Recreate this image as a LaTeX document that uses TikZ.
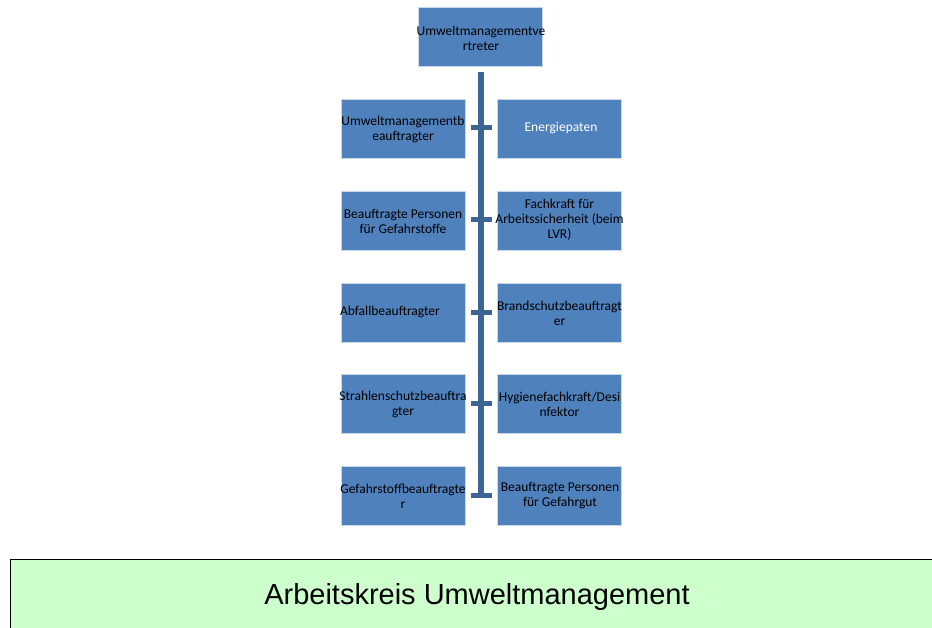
\documentclass[tikz,border=0pt]{standalone}
\usepackage{fontspec}
\setmainfont{Carlito}
\newfontfamily\arialfont{Liberation Sans}
\definecolor{boxblue}{HTML}{4F81BD}
\definecolor{boxedge}{HTML}{C9D7EA}
\definecolor{lineblue}{HTML}{3C6596}
\definecolor{akgreen}{HTML}{CCFFCC}
\begin{document}
\begin{tikzpicture}[x=1pt,y=-1pt,
  orgbox/.style={fill=boxblue,draw=boxedge,line width=0.6pt,minimum width=124pt,minimum height=59pt,inner sep=0pt},
  orgtext/.style={font=\fontsize{13.5}{15}\selectfont,align=center,text=black,inner sep=0pt},
  spine/.style={draw=lineblue,line width=6pt},
  tick/.style={draw=lineblue,line width=5pt}]
\useasboundingbox (0,0) rectangle (932,628);
% top
\node[orgbox] (top) at (480.5,36.5) {};
\node[orgtext] (toptext) at (481,38) {Umweltmanagementve\\rtreter};
% left boxes
\node[orgbox] (l1) at (403,128.5) {};
\node[orgbox] (l2) at (403,220.5) {};
\node[orgbox] (l3) at (403,312.5) {};
\node[orgbox] (l4) at (403,403.5) {};
\node[orgbox] (l5) at (403,495.5) {};
% right boxes
\node[orgbox] (r1) at (559.5,128.5) {};
\node[orgbox] (r2) at (559.5,220.5) {};
\node[orgbox] (r3) at (559.5,312.5) {};
\node[orgbox] (r4) at (559.5,403.5) {};
\node[orgbox] (r5) at (559.5,495.5) {};
% texts
\node[orgtext] at (403,129) {Umweltmanagementb\\eauftragter};
\node[orgtext] at (403,221) {Beauftragte Personen\\für Gefahrstoffe};
\node[orgtext] at (390,312) {Abfallbeauftragter};
\node[orgtext] at (403,404) {Strahlenschutzbeauftra\\gter};
\node[orgtext] at (403,496) {Gefahrstoffbeauftragte\\r};
\node[orgtext,text=white] at (561,128) {Energiepaten};
\node[orgtext] at (559.5,220) {Fachkraft für\\Arbeitssicherheit (beim\\LVR)};
\node[orgtext] at (559.5,313) {Brandschutzbeauftragt\\er};
\node[orgtext] at (559.5,404) {Hygienefachkraft/Desi\\nfektor};
\node[orgtext] at (560,496) {Beauftragte Personen\\für Gefahrgut};
% spine
\coordinate (s0) at (481,72);
\coordinate (s5) at (481,498);
\draw[spine] (s0) -- (s5);
\foreach \yy in {128,220,313,403,495}{
  \draw[tick] (471,\yy) -- (492,\yy);
}
% bottom green box
\node[draw=black,line width=1pt,fill=akgreen,anchor=north west,minimum width=940pt,minimum height=90pt,inner sep=0pt] (ak) at (10,559) {};
\node[font=\arialfont\fontsize{29}{33}\selectfont,inner sep=0pt] (aktext) at (477,597) {Arbeitskreis Umweltmanagement};
\end{tikzpicture}
\end{document}
